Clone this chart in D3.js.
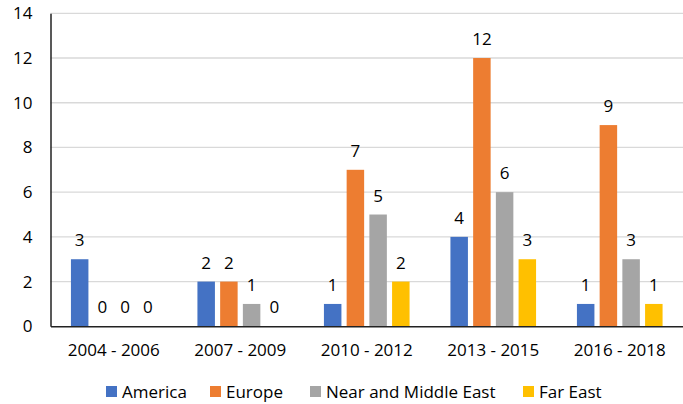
<!DOCTYPE html>
<html><head><meta charset="utf-8">
<script src="https://cdn.jsdelivr.net/npm/d3@7"></script>
<style>body{margin:0;background:#fff}svg text{font-family:"Open Sans",sans-serif;fill:#000}</style>
</head><body>
<svg id="c" width="683" height="404"></svg>
<script>
const categories = ["2004 - 2006","2007 - 2009","2010 - 2012","2013 - 2015","2016 - 2018"];
const seriesNames = ["America","Europe","Near and Middle East","Far East"];
const america = [3,2,1,4,1];
const europe = [0,2,7,12,9];
const nearMiddleEast = [0,1,5,6,3];
const farEast = [0,0,2,3,1];
const yTicks = [0,2,4,6,8,10,12,14];
const colors = ["#4472C4","#ED7D31","#A5A5A5","#FFC000"];
const seriesValues = [america, europe, nearMiddleEast, farEast];

const svg = d3.select("#c");
const pLeft = 50.5, pRight = 683, pTop = 13.3, pBottom = 326.3;
const fs = "17px";
const x0 = d3.scaleBand().domain(categories).range([pLeft, pRight]).paddingInner(0.323).paddingOuter(0.1615);
const x1 = d3.scaleBand().domain(seriesNames).range([0, x0.bandwidth()]).paddingInner(0.23);
const y = d3.scaleLinear().domain([0,14]).range([pBottom, pTop]);

// gridlines
svg.append("g").selectAll("line").data(yTicks.filter(d=>d>0)).join("line")
  .attr("x1", pLeft).attr("x2", pRight).attr("y1", d=>y(d)).attr("y2", d=>y(d))
  .attr("stroke", "#d9d9d9").attr("stroke-width", 1.3);

// y axis labels
const yAxis = d3.axisLeft(y).tickValues(yTicks).tickSize(0).tickPadding(18).tickFormat(d3.format("d"));
const ya = svg.append("g").attr("transform", `translate(${pLeft},0)`).call(yAxis);
ya.select(".domain").attr("stroke", "#222").attr("stroke-width", 1.5);
ya.selectAll("text").style("font-size",fs).attr("fill","#000");

// bars
const groups = svg.append("g").selectAll("g").data(categories).join("g")
  .attr("transform", c=>`translate(${x0(c)},0)`);
groups.selectAll("rect").data((c,i)=>seriesNames.map((s,j)=>({s, v: seriesValues[j][i], j}))).join("rect")
  .attr("x", d=>x1(d.s)).attr("width", x1.bandwidth())
  .attr("y", d=>y(d.v)).attr("height", d=>y(0)-y(d.v))
  .attr("fill", d=>colors[d.j]);
groups.selectAll("text").data((c,i)=>seriesNames.map((s,j)=>({s, v: seriesValues[j][i], j}))).join("text")
  .attr("x", d=>x1(d.s)+x1.bandwidth()/2).attr("y", d=>y(d.v)-13)
  .attr("text-anchor","middle").style("font-size",fs).text(d=>d.v);

// x axis
const xAxis = d3.axisBottom(x0).tickSize(0).tickPadding(18);
const xa = svg.append("g").attr("transform", `translate(0,${pBottom})`).call(xAxis);
xa.select(".domain").attr("stroke", "#222").attr("stroke-width", 1.5);
xa.selectAll("text").style("font-size",fs).attr("fill","#000");

// legend
const legendX = [106, 210, 310, 523];
const lg = svg.append("g").selectAll("g").data(seriesNames).join("g")
  .attr("transform", (d,i)=>`translate(${legendX[i]},386)`);
lg.append("rect").attr("width", 11).attr("height", 11).attr("fill", (d,i)=>colors[i]);
lg.append("text").attr("x", 16).attr("y", 11.5).style("font-size",fs).text(d=>d);
</script>
</body></html>
